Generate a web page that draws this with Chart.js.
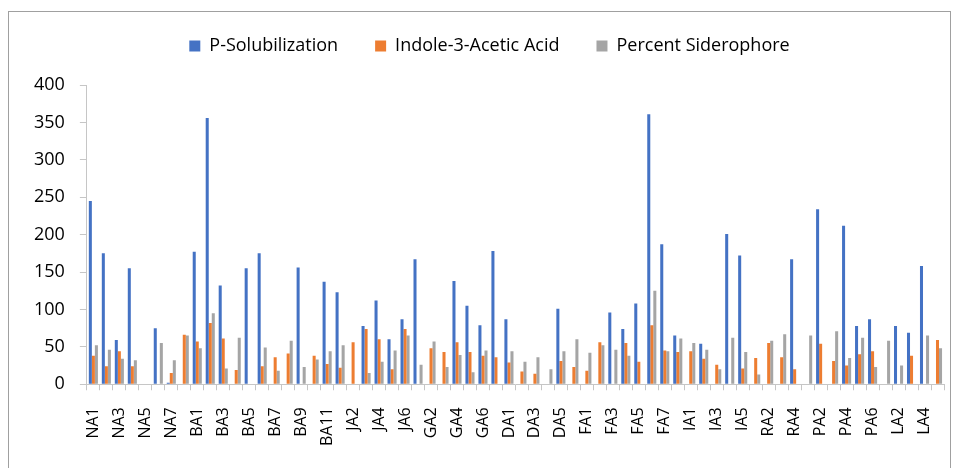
<!DOCTYPE html>
<html>
<head>
<meta charset="utf-8">
<script src="https://cdn.jsdelivr.net/npm/chart.js@4.4.1/dist/chart.umd.min.js"></script>
<style>
  html, body { margin: 0; padding: 0; background: #fff; }
  #wrap { width: 956px; height: 468px; }
</style>
</head>
<body>
<div id="wrap"><canvas id="myChart"></canvas></div>
<script>
var labels = [
  'NA1', 'NA2', 'NA3', 'NA4', 'NA5', 'NA6', 'NA7', 'NA8',
  'BA1', 'BA2', 'BA3', 'BA4', 'BA5', 'BA6', 'BA7', 'BA8', 'BA9', 'BA10', 'BA11',
  'JA1', 'JA2', 'JA3', 'JA4', 'JA5', 'JA6',
  'GA1', 'GA2', 'GA3', 'GA4', 'GA5', 'GA6', 'GA7',
  'DA1', 'DA2', 'DA3', 'DA4', 'DA5', 'DA6',
  'FA1', 'FA2', 'FA3', 'FA4', 'FA5', 'FA6', 'FA7', 'FA8',
  'IA1', 'IA2', 'IA3', 'IA4', 'IA5',
  'RA1', 'RA2', 'RA3', 'RA4',
  'PA1', 'PA2', 'PA3', 'PA4', 'PA5', 'PA6',
  'LA1', 'LA2', 'LA3', 'LA4', 'LA5'
]

var pSolubilization = [
  245, 175, 59, 155, 0, 75, 2, 0,
  177, 356, 132, 0, 155, 175, 0, 0, 156, 0, 137,
  123, 0, 78, 112, 60, 87,
  167, 0, 0, 138, 105, 79, 178,
  87, 0, 0, 0, 101, 0,
  0, 0, 96, 74, 108, 361, 187, 65,
  0, 54, 0, 201, 172,
  0, 0, 0, 167,
  0, 234, 0, 212, 78, 87,
  0, 78, 69, 158, 0
]

var indoleAceticAcid = [
  38, 24, 44, 24, 0, 0, 15, 66,
  57, 82, 61, 19, 0, 24, 36, 41, 0, 38, 27,
  22, 56, 74, 60, 20, 74,
  0, 48, 43, 56, 43, 38, 36,
  29, 17, 14, 0, 31, 23,
  18, 56, 0, 55, 30, 79, 45, 43,
  44, 34, 26, 0, 21,
  35, 55, 36, 20,
  0, 54, 31, 25, 40, 44,
  0, 0, 38, 0, 59
]

var percentSiderophore = [
  52, 46, 34, 32, 0, 55, 32, 65,
  48, 95, 21, 62, 0, 49, 18, 58, 23, 33, 44,
  52, 0, 15, 30, 45, 65,
  26, 57, 23, 39, 16, 45, 0,
  44, 30, 36, 20, 44, 60,
  42, 52, 46, 38, 0, 125, 44, 61,
  55, 46, 20, 62, 43,
  13, 58, 67, 0,
  65, 0, 71, 35, 62, 23,
  58, 25, 0, 65, 48
]

var yTicks = [0, 50, 100, 150, 200, 250, 300, 350, 400]

var fontFamily = "'Open Sans', 'DejaVu Sans', sans-serif"
var axisColor = '#c6c6c6'

// white page plus the thin grey frame round the whole chart
var framePlugin = {
  id: 'frame',
  beforeDraw: function (chart) {
    var ctx = chart.ctx
    ctx.save()
    ctx.fillStyle = '#ffffff'
    ctx.fillRect(0, 0, chart.width, chart.height)
    ctx.strokeStyle = '#a0a0a0'
    ctx.lineWidth = 1
    ctx.strokeRect(8.5, 11.5, 942, 470)
    ctx.restore()
  }
}

// keep the wide gaps between legend items without a tall legend box
var legendHeightPlugin = {
  id: 'legendHeight',
  beforeInit: function (chart) {
    var fit = chart.legend.fit
    chart.legend.fit = function () {
      fit.bind(chart.legend)()
      this.height = 85
    }
  }
}

var ctx = document.getElementById('myChart').getContext('2d')
var myChart = new Chart(ctx, {
  type: 'bar',
  data: {
    labels: labels,
    datasets: [{
        label: 'P-Solubilization',
        data: pSolubilization,
        backgroundColor: '#4472C4',
        barPercentage: 1,
        categoryPercentage: 0.7
    },
    {
        label: 'Indole-3-Acetic Acid',
        data: indoleAceticAcid,
        backgroundColor: '#ED7D31',
        barPercentage: 1,
        categoryPercentage: 0.7
    },
    {
        label: 'Percent Siderophore',
        data: percentSiderophore,
        backgroundColor: '#A5A5A5',
        barPercentage: 1,
        categoryPercentage: 0.7
    }]
  },
  options: {
    responsive: true,
    maintainAspectRatio: false,
    animation: false,
    layout: {
      padding: { left: 19, right: -4, top: 0, bottom: 5 }
    },
    plugins: {
      legend: {
        position: 'top',
        labels: {
          boxWidth: 11,
          boxHeight: 11,
          padding: 37,
          color: '#000',
          font: { family: fontFamily, size: 18 }
        }
      },
      tooltip: { enabled: false }
    },
    scales: {
      x: {
        // the rotated labels would otherwise reserve room on the right
        afterFit: function (axis) {
          axis.paddingLeft = 0
          axis.paddingRight = 12
        },
        grid: {
          offset: true,
          drawOnChartArea: false,
          tickLength: 6,
          color: axisColor
        },
        border: { color: axisColor },
        ticks: {
          autoSkip: false,
          minRotation: 90,
          maxRotation: 90,
          padding: 17,
          color: '#000',
          font: { family: fontFamily, size: 16 },
          callback: function (value, index) {
            return index % 2 === 0 ? labels[index] : ''
          }
        }
      },
      y: {
        min: 0,
        max: 400,
        afterBuildTicks: function (axis) {
          axis.ticks = yTicks.map(function (v) { return { value: v } })
        },
        grid: {
          drawOnChartArea: false,
          tickLength: 7,
          color: axisColor
        },
        border: { color: axisColor },
        ticks: {
          padding: 15,
          color: '#000',
          font: { family: fontFamily, size: 18 }
        }
      }
    }
  },
  plugins: [framePlugin, legendHeightPlugin]
})
</script>
</body>
</html>
